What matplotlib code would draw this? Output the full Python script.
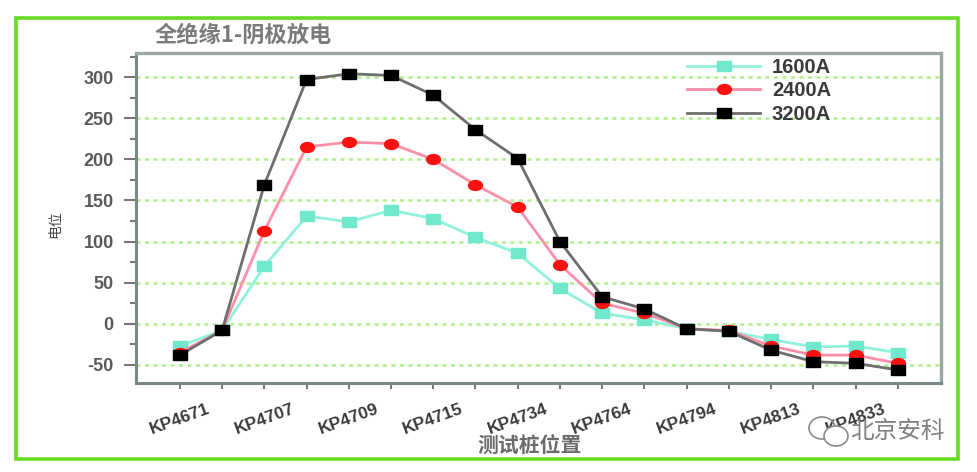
import matplotlib
matplotlib.use("Agg")
import matplotlib.pyplot as plt
from matplotlib.path import Path
from matplotlib.patches import Rectangle, Ellipse
from matplotlib.transforms import Affine2D
import numpy as np

plt.rcParams['font.family'] = ['Liberation Sans', 'Noto Sans CJK SC', 'DejaVu Sans']

# data
station_labels = ['KP4671', 'KP4707', 'KP4709', 'KP4715', 'KP4734',
                  'KP4764', 'KP4794', 'KP4813', 'KP4833']
series_names = ['1600A', '2400A', '3200A']
v_1600 = [-27, -8, 70, 131, 124, 138, 128, 105, 86, 43,
          13, 5, -6, -9, -19, -28, -27, -35]
v_2400 = [-35, -8, 113, 215, 221, 219, 200, 169, 142, 72,
          25, 13, -6, -8, -27, -38, -38, -48]
v_3200 = [-38, -8, 169, 297, 304, 302, 278, 236, 201, 100,
          33, 18, -6, -9, -32, -46, -48, -56]
y_ticks = [-50, 0, 50, 100, 150, 200, 250, 300]

# wide markers (the source picture is stretched sideways)
sq = Path([(-0.7, -0.5), (0.7, -0.5), (0.7, 0.5), (-0.7, 0.5), (-0.7, -0.5)],
          [Path.MOVETO, Path.LINETO, Path.LINETO, Path.LINETO, Path.CLOSEPOLY])
ell = Path.unit_circle().transformed(Affine2D().scale(0.7, 0.5))

fig = plt.figure(figsize=(9.78, 4.72), dpi=100)
ax = fig.add_axes([0.139, 0.1886, 0.823, 0.699])

x = np.arange(len(v_1600))
ax.plot(x, v_1600, color='#8ff2dc', lw=2, marker=sq, ms=10,
        mfc='#6fe8cc', mec='#6fe8cc', label=series_names[0])
ax.plot(x, v_2400, color='#ff8fa8', lw=2, marker=ell, ms=10,
        mfc='#ff1010', mec='#ff1010', label=series_names[1])
ax.plot(x, v_3200, color='#6e6e6e', lw=2, marker=sq, ms=10,
        mfc='#000000', mec='#000000', label=series_names[2])

ax.set_xlim(-1.04, 18.02)
ax.set_ylim(-71.9, 329.2)

ax.set_yticks(y_ticks)
ax.set_yticks(np.arange(-50, 326, 25), minor=True)
ax.set_yticklabels([str(v) for v in y_ticks], fontsize=13, fontweight='bold',
                   color='#5a5a5a')
ax.set_xticks(np.arange(0, 17, 2))
ax.set_xticks(np.arange(1, 18, 2), minor=True)
ax.set_xticklabels(station_labels, rotation=20, fontsize=12.5, fontweight='bold',
                   color='#3a3a3a')

ax.tick_params(axis='y', which='major', length=9, width=1.5, color='#777777', pad=7)
ax.tick_params(axis='y', which='minor', length=4, width=1.5, color='#777777')
ax.tick_params(axis='x', which='both', length=4, width=1.5, color='#777777', pad=9)

ax.yaxis.grid(True, which='major', color='#b0f08a', lw=1.8, ls=(0, (1.6, 1.8)))
ax.set_axisbelow(True)

for side in ['left', 'bottom']:
    ax.spines[side].set_color('#7a8888')
    ax.spines[side].set_linewidth(2.2)
for side in ['top', 'right']:
    ax.spines[side].set_color('#9aa8a8')
    ax.spines[side].set_linewidth(2.4)

leg = ax.legend(loc='upper left', bbox_to_anchor=(0.685, 0.985), frameon=False,
                handlelength=3.6, handletextpad=0.6,
                labelspacing=0.22, borderpad=0, borderaxespad=0,
                prop={'weight': 'bold', 'size': 14.5})
for t in leg.get_texts():
    t.set_color('#3a3a3a')

ax.set_ylabel('电位', family='Noto Sans CJK SC', fontsize=10, color='#444444',
              va='center')
ax.yaxis.set_label_coords(-0.1, 0.48)
ax.set_xlabel('测试桩位置', family='Noto Sans CJK SC', fontsize=15,
              fontweight='bold', color='#6a6a6a', va='center')
ax.xaxis.set_label_coords(0.489, -0.19)

fig.text(155 / 978, 1 - 35 / 472, '全绝缘1-阴极放电', family='Noto Sans CJK SC',
         fontsize=16, fontweight='bold', color='#7a7a7a', va='center', ha='left')

# watermark
fig.text(850 / 978, 1 - 432 / 472, '北京安科', family='Noto Sans CJK SC',
         fontsize=17, color='#808080', va='center', ha='left')
fig.patches.append(Ellipse((822 / 978, 1 - 428 / 472), 26 / 978, 22 / 472,
                           transform=fig.transFigure, fill=False,
                           ec='#8a8a8a', lw=1.2))
fig.patches.append(Ellipse((836 / 978, 1 - 436 / 472), 24 / 978, 20 / 472,
                           transform=fig.transFigure, fc='white',
                           ec='#8a8a8a', lw=1.2))

# green frame around the picture
fig.patches.append(Rectangle((16 / 978, 1 - 459 / 472), 942 / 978, 441 / 472,
                             transform=fig.transFigure, fill=False,
                             ec='#66dd22', lw=2.6))

fig.savefig('out.png', dpi=100)
